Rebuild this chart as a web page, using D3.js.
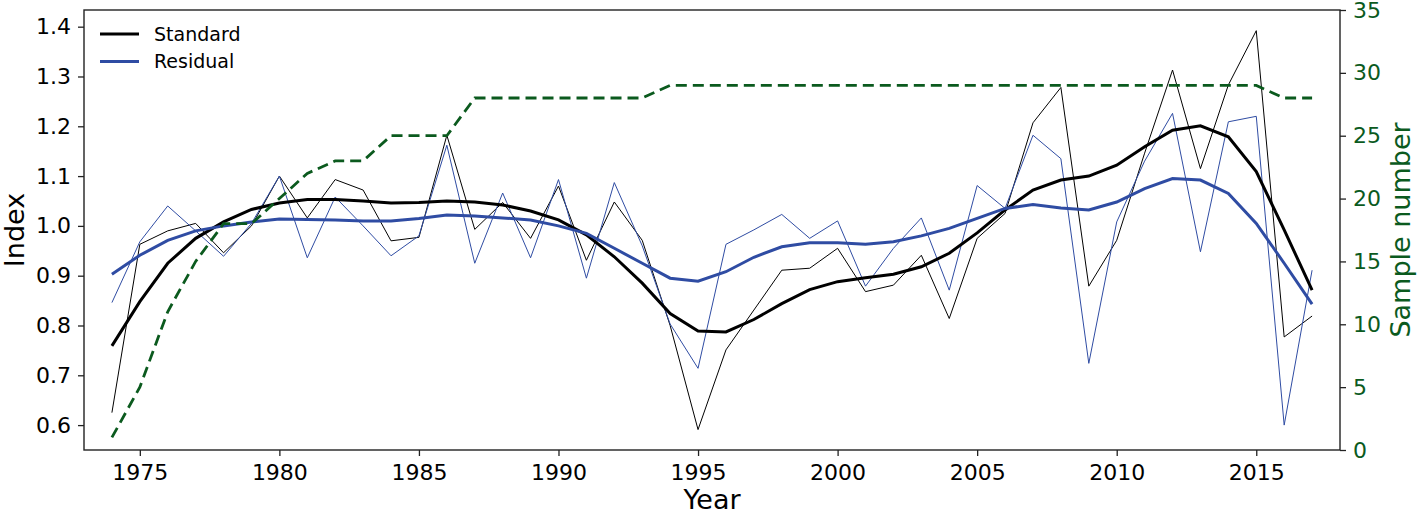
<!DOCTYPE html>
<html><head><meta charset="utf-8">
<script src="https://cdn.jsdelivr.net/npm/d3@7"></script>
<style>html,body{margin:0;padding:0;background:#fff;}svg{display:block;font-family:"DejaVu Sans",sans-serif;}</style>
</head><body><svg id="c" width="1418" height="515"></svg>
<script>
const years = d3.range(1974, 2018);
const standardRaw = [0.625,0.963,0.990,1.005,0.946,1.000,1.100,1.016,1.093,1.072,0.970,0.977,
  1.182,0.993,1.047,0.975,1.080,0.931,1.048,0.971,0.800,0.591,0.751,
  0.831,0.911,0.915,0.955,0.868,0.881,0.941,0.814,0.975,1.025,1.207,1.278,
  0.879,0.971,1.146,1.313,1.115,1.283,1.392,0.777,0.819];
const residualRaw = [0.846,0.968,1.040,0.990,0.939,1.005,1.100,0.936,1.058,1.000,0.940,0.980,
  1.162,0.925,1.066,0.936,1.093,0.895,1.087,0.960,0.803,0.714,0.963,
  0.992,1.023,0.975,1.010,0.879,0.955,1.016,0.871,1.081,1.035,1.182,1.135,
  0.724,1.008,1.130,1.226,0.948,1.209,1.220,0.600,0.911];
const standardSmooth = [0.759,0.848,0.925,0.975,1.008,1.033,1.046,1.053,1.053,1.050,1.046,1.047,
  1.050,1.048,1.042,1.030,1.012,0.982,0.938,0.885,0.824,0.789,0.787,
  0.812,0.844,0.872,0.888,0.896,0.903,0.918,0.945,0.986,1.032,1.072,1.092,
  1.100,1.122,1.159,1.192,1.201,1.179,1.109,0.992,0.871];
const residualSmooth = [0.903,0.941,0.971,0.990,1.000,1.008,1.014,1.013,1.012,1.010,1.010,1.015,
  1.022,1.020,1.016,1.012,1.000,0.985,0.955,0.925,0.895,0.889,0.908,
  0.937,0.958,0.966,0.966,0.963,0.968,0.980,0.995,1.015,1.035,1.043,1.036,
  1.032,1.048,1.075,1.095,1.092,1.065,1.005,0.925,0.843];
const sampleNumber = [1,5,11,15,18,18,20,22,23,23,25,25,25,28,28,28,28,28,28,28,
  29,29,29,29,29,29,29,29,29,29,29,29,29,29,29,29,29,29,29,29,29,29,28,28];
const xTicks = [1975,1980,1985,1990,1995,2000,2005,2010,2015];
const yTicks = [0.6,0.7,0.8,0.9,1.0,1.1,1.2,1.3,1.4];
const y2Ticks = [0,5,10,15,20,25,30,35];
const legendLabels = ["Standard","Residual"];

const L=84, R=1340, T=10, B=450;
const black="#000", blue="#2f4ca3", green="#0b5a1e", spine="#222";
const svg = d3.select("#c");
const x = d3.scaleLinear().domain([1973,2018]).range([L,R]);
const y = d3.scaleLinear().domain([0.55,1.4335]).range([B,T]);
const y2 = d3.scaleLinear().domain([0,35]).range([B,T]);

function line(vals, sc){ return d3.line().x((d,i)=>x(years[i])).y(d=>sc(d))(vals); }
const g = svg.append("g");
g.append("path").attr("d",line(standardRaw,y)).attr("fill","none").attr("stroke",black).attr("stroke-width",1);
g.append("path").attr("d",line(residualRaw,y)).attr("fill","none").attr("stroke",blue).attr("stroke-width",1);
g.append("path").attr("d",line(standardSmooth,y)).attr("fill","none").attr("stroke",black).attr("stroke-width",3);
g.append("path").attr("d",line(residualSmooth,y)).attr("fill","none").attr("stroke",blue).attr("stroke-width",3);
g.append("path").attr("d",line(sampleNumber,y2)).attr("fill","none").attr("stroke",green).attr("stroke-width",2.8).attr("stroke-dasharray","11,6");

// axes
const fs = 22;
const ax = svg.append("g").attr("transform",`translate(0,${B})`).call(d3.axisBottom(x).tickValues(xTicks).tickFormat(d3.format("d")).tickSize(6).tickPadding(8));
const ay = svg.append("g").attr("transform",`translate(${L},0)`).call(d3.axisLeft(y).tickValues(yTicks).tickFormat(d3.format(".1f")).tickSize(6).tickPadding(7));
const ay2 = svg.append("g").attr("transform",`translate(${R},0)`).call(d3.axisRight(y2).tickValues(y2Ticks).tickFormat(d3.format("d")).tickSize(6).tickPadding(7));
[ax,ay,ay2].forEach(a=>{a.select(".domain").remove(); a.selectAll("text").attr("font-size",fs).attr("font-family","DejaVu Sans"); a.selectAll("line").attr("stroke",spine).attr("stroke-width",1.3);});
ay2.selectAll("text").attr("fill",green);
ay2.selectAll("line").attr("stroke",spine);
ax.selectAll("text").attr("fill","#000");
ay.selectAll("text").attr("fill","#000");

svg.append("rect").attr("x",L).attr("y",T).attr("width",R-L).attr("height",B-T).attr("fill","none").attr("stroke",spine).attr("stroke-width",1.4);

// labels
svg.append("text").attr("x",(L+R)/2).attr("y",509).attr("text-anchor","middle").attr("font-size",27).text("Year");
svg.append("text").attr("transform",`translate(24,${(T+B)/2}) rotate(-90)`).attr("text-anchor","middle").attr("font-size",27).text("Index");
svg.append("text").attr("transform",`translate(1410,${(T+B)/2}) rotate(-90)`).attr("text-anchor","middle").attr("font-size",27).attr("fill",green).text("Sample number");

// legend
const leg = svg.append("g");
[[black,34],[blue,61.5]].forEach((c,i)=>{
  leg.append("line").attr("x1",100).attr("x2",139).attr("y1",c[1]).attr("y2",c[1]).attr("stroke",c[0]).attr("stroke-width",3);
  leg.append("text").attr("x",154).attr("y",c[1]).attr("dy","0.35em").attr("font-size",19).text(legendLabels[i]);
});
</script></body></html>
